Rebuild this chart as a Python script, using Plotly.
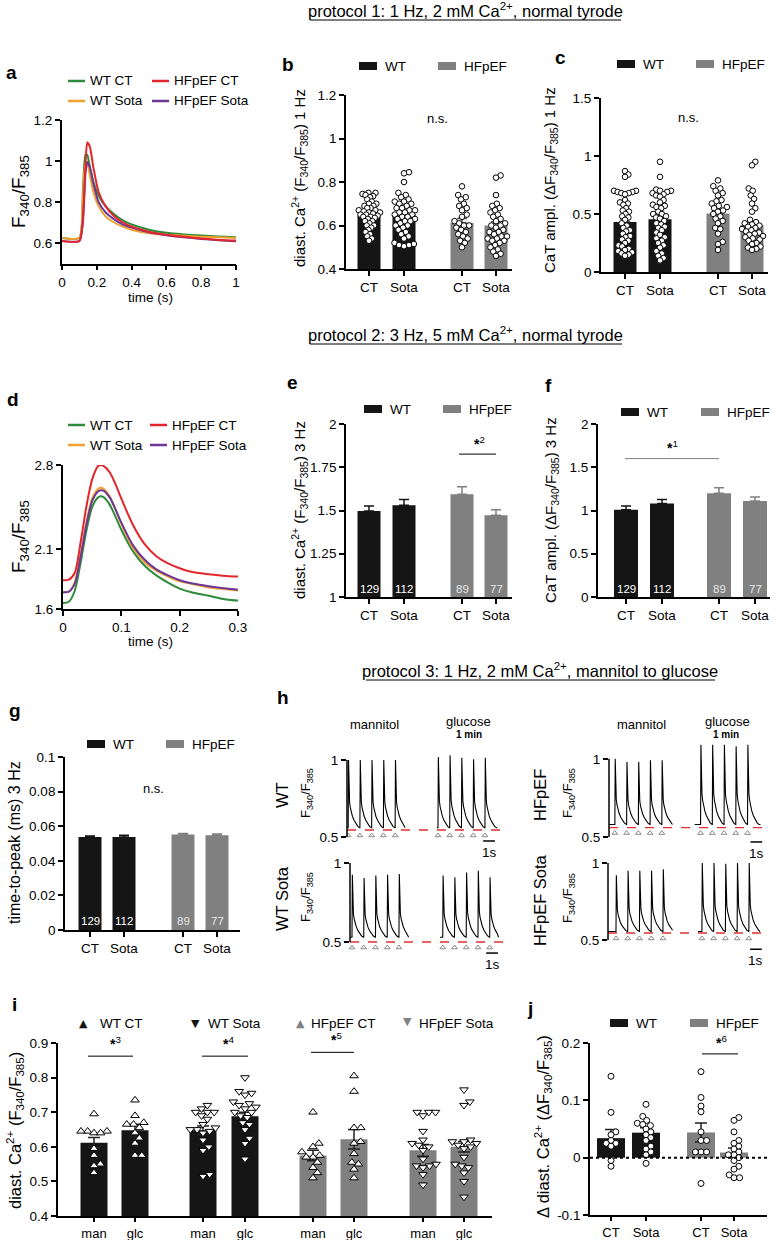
import math
import plotly.graph_objects as go

W, H = 783, 1240
FONT = "Liberation Sans, Arial, sans-serif"
BLK = "#151515"
GRY = "#808080"
GREEN = "#2e8b3a"
RED = "#e3262b"
ORANGE = "#f2a030"
PURPLE = "#6c3795"
TICK = 13.5
XTICK = 13.5

# ====================== DATA ======================
GROUP_TICKS = ["CT", "Sota", "CT", "Sota"]
I_TICKS = ["man", "glc", "man", "glc", "man", "glc", "man", "glc"]
N_CELLS = ["129", "112", "89", "77"]

# (a) mean transients, protocol 1
A_TIME = [0, 0.10, 0.12, 0.135, 0.145, 0.16, 0.18, 0.21, 0.25, 0.30, 0.35, 0.40, 0.50, 0.60, 0.70, 0.80, 0.90, 1.0]
A_WT_CT = [0.625, 0.625, 0.85, 1.03, 1.03, 0.97, 0.90, 0.83, 0.78, 0.74, 0.71, 0.69, 0.665, 0.65, 0.642, 0.636, 0.632, 0.628]
A_WT_SOTA = [0.625, 0.625, 0.82, 0.99, 0.99, 0.93, 0.85, 0.78, 0.73, 0.70, 0.68, 0.665, 0.648, 0.64, 0.635, 0.63, 0.628, 0.625]
A_HF_CT = [0.61, 0.61, 0.72, 0.98, 1.09, 1.07, 0.97, 0.85, 0.78, 0.73, 0.70, 0.68, 0.655, 0.64, 0.63, 0.622, 0.615, 0.612]
A_HF_SOTA = [0.61, 0.61, 0.70, 0.94, 0.995, 0.97, 0.89, 0.80, 0.75, 0.715, 0.69, 0.675, 0.652, 0.638, 0.628, 0.62, 0.614, 0.608]

# (d) mean transients, protocol 2
D_TIME = [0, 0.01, 0.02, 0.03, 0.04, 0.05, 0.06, 0.065, 0.07, 0.08, 0.09, 0.10, 0.12, 0.14, 0.16, 0.18, 0.20, 0.22, 0.25, 0.28, 0.30]
D_WT_CT = [1.65, 1.66, 1.75, 1.98, 2.25, 2.45, 2.53, 2.54, 2.53, 2.47, 2.37, 2.26, 2.08, 1.96, 1.88, 1.82, 1.77, 1.74, 1.71, 1.68, 1.67]
D_WT_SOTA = [1.74, 1.745, 1.82, 2.05, 2.32, 2.52, 2.60, 2.61, 2.60, 2.54, 2.43, 2.31, 2.11, 1.99, 1.92, 1.87, 1.83, 1.81, 1.78, 1.765, 1.755]
D_HF_CT = [1.84, 1.845, 1.90, 2.15, 2.45, 2.68, 2.79, 2.80, 2.79, 2.74, 2.64, 2.52, 2.30, 2.14, 2.04, 1.98, 1.94, 1.91, 1.89, 1.875, 1.87]
D_HF_SOTA = [1.74, 1.745, 1.81, 2.03, 2.30, 2.50, 2.58, 2.59, 2.585, 2.53, 2.43, 2.32, 2.13, 2.01, 1.93, 1.88, 1.84, 1.815, 1.79, 1.77, 1.76]

# (b) diastolic Ca 1 Hz
B_MEAN = [0.645, 0.65, 0.612, 0.60]
B_SEM = [0.01, 0.012, 0.02, 0.017]
B_WT_CT = [0.75, 0.75, 0.745, 0.74, 0.735, 0.73, 0.72, 0.71, 0.70, 0.70, 0.69, 0.69, 0.68, 0.68, 0.67, 0.67, 0.665,
           0.66, 0.66, 0.655, 0.65, 0.65, 0.645, 0.64, 0.64, 0.635, 0.63, 0.62, 0.62, 0.61, 0.60, 0.60, 0.59, 0.58,
           0.57, 0.56, 0.55, 0.54, 0.53]
B_WT_SOTA = [0.845, 0.84, 0.80, 0.75, 0.74, 0.73, 0.72, 0.71, 0.71, 0.70, 0.70, 0.69, 0.68, 0.68, 0.67, 0.67, 0.66,
             0.66, 0.65, 0.65, 0.64, 0.64, 0.63, 0.63, 0.62, 0.62, 0.61, 0.60, 0.60, 0.59, 0.58, 0.57, 0.56, 0.55,
             0.54, 0.52, 0.515, 0.51, 0.51, 0.505]
B_HF_CT = [0.78, 0.74, 0.73, 0.72, 0.70, 0.69, 0.68, 0.67, 0.65, 0.64, 0.62, 0.61, 0.60, 0.60, 0.59, 0.58, 0.57,
           0.56, 0.55, 0.54, 0.53, 0.52, 0.50]
B_HF_SOTA = [0.83, 0.82, 0.74, 0.70, 0.69, 0.68, 0.67, 0.66, 0.65, 0.64, 0.63, 0.62, 0.61, 0.60, 0.60, 0.59, 0.58,
             0.57, 0.57, 0.56, 0.55, 0.55, 0.54, 0.54, 0.53, 0.53, 0.52, 0.51, 0.50, 0.49, 0.48, 0.47, 0.46]

# (c) CaT amplitude 1 Hz
C_MEAN = [0.43, 0.455, 0.505, 0.405]
C_SEM = [0.03, 0.028, 0.028, 0.027]
C_WT_CT = [0.87, 0.84, 0.82, 0.70, 0.70, 0.69, 0.69, 0.68, 0.68, 0.67, 0.62, 0.60, 0.59, 0.58, 0.55, 0.53, 0.52,
           0.50, 0.48, 0.47, 0.45, 0.42, 0.40, 0.38, 0.36, 0.35, 0.33, 0.31, 0.30, 0.28, 0.27, 0.25, 0.23, 0.22,
           0.20, 0.19, 0.18, 0.17, 0.16, 0.15, 0.14]
C_WT_SOTA = [0.95, 0.82, 0.71, 0.70, 0.70, 0.69, 0.68, 0.67, 0.66, 0.65, 0.62, 0.60, 0.58, 0.57, 0.56, 0.55, 0.52,
             0.50, 0.50, 0.48, 0.47, 0.46, 0.44, 0.42, 0.41, 0.39, 0.38, 0.36, 0.34, 0.32, 0.30, 0.29, 0.27, 0.25,
             0.23, 0.21, 0.18, 0.16, 0.14, 0.12, 0.10]
C_HF_CT = [0.79, 0.74, 0.72, 0.70, 0.68, 0.66, 0.62, 0.61, 0.59, 0.57, 0.56, 0.55, 0.53, 0.52, 0.50, 0.48, 0.46,
           0.44, 0.42, 0.38, 0.37, 0.33, 0.26, 0.24, 0.19]
C_HF_SOTA = [0.95, 0.92, 0.72, 0.70, 0.66, 0.63, 0.59, 0.55, 0.52, 0.45, 0.43, 0.42, 0.41, 0.40, 0.39, 0.38, 0.37,
             0.36, 0.35, 0.34, 0.33, 0.32, 0.31, 0.30, 0.29, 0.28, 0.27, 0.25, 0.24, 0.22, 0.21, 0.20, 0.19]

# (e) diastolic Ca 3 Hz, (f) CaT ampl 3 Hz, (g) time to peak
E_MEAN = [1.497, 1.53, 1.594, 1.472]
E_SEM = [0.029, 0.033, 0.043, 0.033]
F_MEAN = [1.01, 1.08, 1.20, 1.11]
F_SEM = [0.042, 0.046, 0.062, 0.045]
G_MEAN = [0.0538, 0.0538, 0.0552, 0.0548]
G_SEM = [0.0006, 0.0009, 0.0006, 0.0007]

# (h) representative traces: WT, WT Sota, HFpEF, HFpEF Sota
H_MAN_PEAKS = [[1.0, 1.0, 1.0, 1.0, 1.0], [0.925, 0.905, 0.92, 0.925, 0.93],
               [1.0, 0.98, 0.98, 0.99, 0.99], [0.92, 0.95, 0.95, 0.95, 0.96]]
H_GLC_PEAKS = [[1.02, 1.03, 1.015, 1.005, 1.015], [0.92, 0.91, 0.94, 0.95, 0.91],
               [1.09, 1.09, 1.09, 1.08, 1.09], [1.0, 1.0, 0.995, 1.0, 1.0]]
H_BASE = [0.56, 0.53, 0.58, 0.555]
H_DASH = [0.545, 0.50, 0.56, 0.545]
# normalised single-transient shape (time after stimulus s, fraction of amplitude)
TPL_T = [0, 0.03, 0.07, 0.12, 0.18, 0.26, 0.36, 0.5, 0.65, 0.82, 0.98]
TPL_F = [0, 1.0, 0.52, 0.38, 0.3, 0.23, 0.17, 0.11, 0.06, 0.02, 0.0]

# (i) diastolic Ca mannitol -> glucose
I_MEAN = [0.612, 0.648, 0.648, 0.688, 0.575, 0.622, 0.59, 0.60]
I_SEM = [0.015, 0.017, 0.012, 0.012, 0.015, 0.028, 0.017, 0.015]
I_PTS = [
    [0.695, 0.645, 0.645, 0.645, 0.64, 0.64, 0.595, 0.575, 0.55, 0.545, 0.525],
    [0.735, 0.69, 0.67, 0.665, 0.665, 0.655, 0.64, 0.625, 0.61, 0.575, 0.575],
    [0.72, 0.71, 0.70, 0.70, 0.70, 0.69, 0.68, 0.665, 0.655, 0.65, 0.65, 0.645, 0.64, 0.62, 0.60, 0.59, 0.52, 0.515],
    [0.80, 0.76, 0.755, 0.75, 0.73, 0.725, 0.72, 0.715, 0.71, 0.70, 0.70, 0.69, 0.685, 0.67, 0.665, 0.65, 0.625, 0.61, 0.565],
    [0.70, 0.61, 0.60, 0.585, 0.575, 0.57, 0.57, 0.555, 0.54, 0.525, 0.51],
    [0.805, 0.76, 0.655, 0.655, 0.615, 0.61, 0.58, 0.555, 0.55, 0.535, 0.51],
    [0.70, 0.70, 0.70, 0.69, 0.645, 0.62, 0.61, 0.605, 0.60, 0.59, 0.565, 0.55, 0.545, 0.545, 0.54, 0.52, 0.49],
    [0.765, 0.73, 0.72, 0.62, 0.615, 0.615, 0.61, 0.605, 0.60, 0.595, 0.57, 0.55, 0.545, 0.54, 0.525, 0.50, 0.455],
]

# (j) delta diastolic Ca
J_MEAN = [0.034, 0.0436, 0.044, 0.009]
J_SEM = [0.015, 0.0085, 0.0165, 0.008]
J_PTS = [
    [0.142, 0.079, 0.045, 0.04, 0.03, 0.025, 0.025, 0.02, -0.005, -0.015],
    [0.093, 0.072, 0.065, 0.06, 0.058, 0.056, 0.05, 0.045, 0.04, 0.035, 0.03, 0.02, 0.015, 0.01, 0.005, -0.01],
    [0.15, 0.105, 0.09, 0.08, 0.045, 0.03, 0.03, 0.01, 0.01, 0.01, -0.045],
    [0.07, 0.065, 0.045, 0.03, 0.025, 0.02, 0.015, 0.01, 0.005, 0.005, 0.0, -0.005, -0.015, -0.02, -0.03, -0.035, -0.035],
]

# ====================== HELPERS ======================
fig = go.Figure()
LAY = {}
AX = {}
SHAPES = []
ANNS = []


def ref(n, a):
    return a if n == 1 else f"{a}{n}"


def axes(n, L, R, T, B, xr, yr, xo=None, yo=None):
    base = dict(showline=True, linecolor="black", linewidth=1.8, ticks="outside", ticklen=5, tickwidth=1.5,
                tickcolor="black", showgrid=False, zeroline=False, automargin=False,
                tickfont=dict(family=FONT, size=TICK, color="black"))
    xa = dict(base, domain=[L / W, R / W], range=xr, anchor=ref(n, "y"))
    ya = dict(base, domain=[1 - B / H, 1 - T / H], range=yr, anchor=ref(n, "x"))
    if xo:
        xa.update(xo)
    if yo:
        ya.update(yo)
    k = "" if n == 1 else str(n)
    LAY["xaxis" + k] = xa
    LAY["yaxis" + k] = ya
    AX[n] = (L, R, T, B, xr, yr)


def X(n, v):
    L, R, T, B, xr, yr = AX[n]
    return (L + (v - xr[0]) / (xr[1] - xr[0]) * (R - L)) / W


def Y(n, v):
    L, R, T, B, xr, yr = AX[n]
    return 1 - (B - (v - yr[0]) / (yr[1] - yr[0]) * (B - T)) / H


def ann(x, y, text, size=12, color="black", **kw):
    d = dict(x=x / W, y=1 - y / H, xref="paper", yref="paper", text=text, showarrow=False,
             xanchor="center", yanchor="middle",
             font=dict(family=FONT, size=size, color=color))
    d.update(kw)
    ANNS.append(d)


def hline_px(x0, x1, y, color="black", width=1.3, dash=None):
    ln = dict(color=color, width=width)
    if dash:
        ln["dash"] = dash
    SHAPES.append(dict(type="line", xref="paper", yref="paper", x0=x0 / W, x1=x1 / W,
                       y0=1 - y / H, y1=1 - y / H, line=ln))


def letter(x, y, t):
    ann(x, y, f"<b>{t}</b>", size=19)


def ytitle(x, y, text, size=15):
    ann(x, y, text, size=size, textangle=-90)


def legend_box(x, y, label, color):
    SHAPES.append(dict(type="rect", xref="paper", yref="paper", x0=x / W, x1=(x + 18) / W,
                       y0=1 - (y + 4) / H, y1=1 - (y - 4) / H, fillcolor=color, line=dict(width=0)))
    ann(x + 24, y, label, size=13.5, xanchor="left")


def legend_line(x, y, label, color):
    hline_px(x, x + 17, y, color=color, width=2.5)
    ann(x + 20, y, label, size=13.5, xanchor="left")


def swarm(vals, ppu, d=5.2, maxhalf=10.5):
    order = sorted(range(len(vals)), key=lambda i: vals[i])
    placed = []
    offs = [0.0] * len(vals)
    for i in order:
        y = vals[i] * ppu
        cands = [0.0]
        for (px, py) in placed:
            dyy = abs(py - y)
            if dyy < d:
                dxx = math.sqrt(d * d - dyy * dyy)
                cands += [px + dxx, px - dxx]
        cands.sort(key=abs)
        chosen = cands[-1]
        for c in cands:
            if all((c - px) ** 2 + (y - py) ** 2 >= d * d - 1e-6 for px, py in placed):
                chosen = c
                break
        offs[i] = chosen
        placed.append((chosen, y))
    m = max(abs(o) for o in offs) or 1
    if m > maxhalf:
        offs = [o * maxhalf / m for o in offs]
    return offs


def bar_panel(n, pos, means, sems, colors, width, ecolors, sym=False, cap=5):
    groups = {}
    for i, c in enumerate(colors):
        groups.setdefault((c, ecolors[i]), []).append(i)
    for (c, ec), idx in groups.items():
        fig.add_trace(go.Bar(
            x=[pos[i] for i in idx], y=[means[i] for i in idx], width=width, marker_color=c,
            marker_line_width=0,
            error_y=dict(type="data", array=[sems[i] for i in idx],
                         arrayminus=[sems[i] if sym else 0 for i in idx], symmetric=False,
                         color=ec, thickness=1.5, width=cap),
            xaxis=ref(n, "x"), yaxis=ref(n, "y"), hoverinfo="skip"))


def points(n, pos, groups_vals, ppu, symbol="circle", size=5.6, d=5.2, maxhalf=11):
    for p, vals in zip(pos, groups_vals):
        offs = swarm(vals, ppu, d, maxhalf)
        fig.add_trace(go.Scatter(
            x=[p + o for o in offs], y=vals, mode="markers",
            marker=dict(symbol=symbol, size=size, color="white", line=dict(color="black", width=1)),
            xaxis=ref(n, "x"), yaxis=ref(n, "y"), hoverinfo="skip", cliponaxis=False))


def xt(vals, text, size=XTICK, **kw):
    d = dict(tickvals=vals, ticktext=text, tickfont=dict(family=FONT, size=size, color="black"))
    d.update(kw)
    return d


# ====================== TITLES ======================
ann(466, 10, "protocol 1: 1 Hz, 2 mM Ca<sup>2+</sup>, normal tyrode", size=16.5)
hline_px(310, 621, 20, width=1)
ann(466, 334, "protocol 2: 3 Hz, 5 mM Ca<sup>2+</sup>, normal tyrode", size=16.5)
hline_px(310, 622, 344, width=1)
ann(540, 670, "protocol 3: 1 Hz, 2 mM Ca<sup>2+</sup>, mannitol to glucose", size=16.5)
hline_px(366, 715, 680, width=1)

# ====================== (a) ======================
axes(1, 62, 236, 120, 263.5, [0, 1], [0.5, 1.2],
     xo=xt([0, 0.2, 0.4, 0.6, 0.8, 1], ["0", "0.2", "0.4", "0.6", "0.8", "1"]),
     yo=dict(tickvals=[0.6, 0.8, 1.0, 1.2], ticktext=["0.6", "0.8", "1", "1.2"]))
for ys, col in [(A_WT_CT, GREEN), (A_WT_SOTA, ORANGE), (A_HF_SOTA, PURPLE), (A_HF_CT, RED)]:
    fig.add_trace(go.Scatter(x=A_TIME, y=ys, mode="lines", line=dict(color=col, width=2, shape="spline", smoothing=0.6),
                             xaxis="x", yaxis="y", hoverinfo="skip"))
letter(11, 72, "a")
legend_line(68, 81, "WT CT", GREEN)
legend_line(152, 81, "HFpEF CT", RED)
legend_line(68, 101, "WT Sota", ORANGE)
legend_line(152, 101, "HFpEF Sota", PURPLE)
ytitle(20, 192, "F<sub>340</sub>/F<sub>385</sub>", size=19)
ann(150, 297, "time (s)", size=13.5)

# ====================== (b) ======================
BPOS = [369, 404, 462, 496]
axes(2, 346, 512, 95, 269, [346, 512], [0.4, 1.2],
     xo=xt(BPOS, GROUP_TICKS),
     yo=dict(tickvals=[0.4, 0.6, 0.8, 1.0, 1.2], ticktext=["0.4", "0.6", "0.8", "1", "1.2"]))
bar_panel(2, BPOS, B_MEAN, B_SEM, [BLK, BLK, GRY, GRY], 23, [BLK, BLK, "#555", "#555"])
points(2, BPOS, [B_WT_CT, B_WT_SOTA, B_HF_CT, B_HF_SOTA], 217.5)
letter(288, 65, "b")
legend_box(359, 66, "WT", BLK)
legend_box(438, 66, "HFpEF", GRY)
ann(438, 118, "n.s.", size=13)
ytitle(299, 178, "diast. Ca<sup>2+</sup> (F<sub>340</sub>/F<sub>385</sub>) 1 Hz")

# ====================== (c) ======================
CPOS = [625, 660, 718, 752]
axes(3, 601, 768, 98, 272, [601, 768], [0, 1.5],
     xo=xt(CPOS, GROUP_TICKS),
     yo=dict(tickvals=[0, 0.5, 1.0, 1.5], ticktext=["0", "0.5", "1", "1.5"]))
bar_panel(3, CPOS, C_MEAN, C_SEM, [BLK, BLK, GRY, GRY], 23, [BLK, BLK, "#555", "#555"])
points(3, CPOS, [C_WT_CT, C_WT_SOTA, C_HF_CT, C_HF_SOTA], 116)
letter(560, 57, "c")
legend_box(617, 64, "WT", BLK)
legend_box(696, 64, "HFpEF", GRY)
ann(688, 117, "n.s.", size=13)
ytitle(551, 180, "CaT ampl. (ΔF<sub>340</sub>/F<sub>385</sub>) 1 Hz")

# ====================== (d) ======================
axes(4, 63, 238, 465, 609, [0, 0.3], [1.6, 2.8],
     xo=xt([0, 0.1, 0.2, 0.3], ["0", "0.1", "0.2", "0.3"]),
     yo=dict(tickvals=[1.6, 2.1, 2.8], ticktext=["1.6", "2.1", "2.8"]))
for ys, col in [(D_WT_CT, GREEN), (D_WT_SOTA, ORANGE), (D_HF_SOTA, PURPLE), (D_HF_CT, RED)]:
    fig.add_trace(go.Scatter(x=D_TIME, y=ys, mode="lines", line=dict(color=col, width=2, shape="spline", smoothing=0.8),
                             xaxis="x4", yaxis="y4", hoverinfo="skip"))
letter(13, 399, "d")
legend_line(68, 425, "WT CT", GREEN)
legend_line(150, 425, "HFpEF CT", RED)
legend_line(68, 445, "WT Sota", ORANGE)
legend_line(150, 445, "HFpEF Sota", PURPLE)
ytitle(20, 537, "F<sub>340</sub>/F<sub>385</sub>", size=19)
ann(150, 641, "time (s)", size=13.5)

# ====================== (e) ======================
axes(5, 346, 512, 424, 597, [346, 512], [1, 2],
     xo=xt(BPOS, GROUP_TICKS),
     yo=dict(tickvals=[1, 1.25, 1.5, 1.75, 2], ticktext=["1", "1.25", "1.5", "1.75", "2"]))
bar_panel(5, BPOS, E_MEAN, E_SEM, [BLK, BLK, GRY, GRY], 23, [BLK, BLK, GRY, GRY])
for p, t, i in zip(BPOS, N_CELLS, range(4)):
    ann(p, 589, t, size=11.5, color="white" if i < 2 else "#e6e6e6")
letter(292, 383, "e")
legend_box(364, 409, "WT", BLK)
legend_box(443, 409, "HFpEF", GRY)
SHAPES.append(dict(type="line", xref="paper", yref="paper", x0=X(5, 459), x1=X(5, 496),
                   y0=Y(5, 1.826), y1=Y(5, 1.826), line=dict(color="black", width=1)))
ann(479, 443, "<b>*</b><sup>2</sup>", size=14)
ytitle(299, 510, "diast. Ca<sup>2+</sup> (F<sub>340</sub>/F<sub>385</sub>) 3 Hz")

# ====================== (f) ======================
FPOS = [626, 662, 719, 755]
axes(6, 598, 770, 424, 597, [598, 770], [0, 2],
     xo=xt(FPOS, GROUP_TICKS),
     yo=dict(tickvals=[0, 0.5, 1, 1.5, 2], ticktext=["0", "0.5", "1", "1.5", "2"]))
bar_panel(6, FPOS, F_MEAN, F_SEM, [BLK, BLK, GRY, GRY], 24, [BLK, BLK, GRY, GRY])
for p, t, i in zip(FPOS, N_CELLS, range(4)):
    ann(p, 589, t, size=11.5, color="white" if i < 2 else "#e6e6e6")
letter(548, 385, "f")
legend_box(621, 412, "WT", BLK)
legend_box(701, 412, "HFpEF", GRY)
SHAPES.append(dict(type="line", xref="paper", yref="paper", x0=X(6, 625), x1=X(6, 719),
                   y0=Y(6, 1.6), y1=Y(6, 1.6), line=dict(color=GRY, width=1)))
ann(672, 447, "<b>*</b><sup>1</sup>", size=14)
ytitle(551, 510, "CaT ampl. (ΔF<sub>340</sub>/F<sub>385</sub>) 3 Hz")

# ====================== (g) ======================
GPOS = [90, 124, 183, 217]
axes(7, 65, 240, 757, 930, [65, 240], [0, 0.1],
     xo=xt(GPOS, GROUP_TICKS),
     yo=dict(tickvals=[0, 0.02, 0.04, 0.06, 0.08, 0.1], ticktext=["0", "0.02", "0.04", "0.06", "0.08", "0.1"]))
bar_panel(7, GPOS, G_MEAN, G_SEM, [BLK, BLK, GRY, GRY], 23, [BLK, BLK, GRY, GRY])
for p, t, i in zip(GPOS, N_CELLS, range(4)):
    ann(p, 921, t, size=11.5, color="white" if i < 2 else "#e6e6e6")
letter(15, 710, "g")
legend_box(87, 744, "WT", BLK)
legend_box(166, 744, "HFpEF", GRY)
ann(153, 788, "n.s.", size=13)
ytitle(14, 843, "time-to-peak (ms) 3 Hz", size=16)

# ====================== (h) ======================
H_PANELS = [
    dict(n=8, L=347, T=741.5, B=852.4, man0=0.1, glc0=7.75, man_end=4.95, glc_start=7.65, glc_end=12.8,
         sb=11.6, sby=0.474, lab="WT", lx=282, fx=306, cy=795),
    dict(n=9, L=350, T=844, B=957.8, man0=0.17, glc0=7.9, man_end=5.0, glc_start=7.67, glc_end=12.65,
         sb=11.6, sby=0.43, lab="WT Sota", lx=282, fx=306, cy=899),
    dict(n=10, L=609, T=740, B=852.6, man0=0.5, glc0=7.8, man_end=5.4, glc_start=7.3, glc_end=12.9,
         sb=12.05, sby=0.468, lab="HFpEF", lx=540, fx=568, cy=795),
    dict(n=11, L=608, T=844.5, B=955.4, man0=0.68, glc0=8.0, man_end=5.5, glc_start=7.66, glc_end=12.95,
         sb=12.1, sby=0.44, lab="HFpEF Sota", lx=540, fx=568, cy=900),
]


def segment(start, end, beat0, peaks, base):
    ts, vs = [start], [base]
    for k, pk in enumerate(peaks):
        b = beat0 + k
        for tt, ff in zip(TPL_T, TPL_F):
            t = b + tt
            if start <= t <= end:
                ts.append(t)
                vs.append(base + (pk - base) * ff)
    if ts[-1] < end:
        ts.append(end)
        vs.append(base)
    return ts, vs


for k, hp in enumerate(H_PANELS):
    n = hp["n"]
    L = hp["L"]
    R = L + 13.2 * 11.74
    axes(n, L, R, hp["T"], hp["B"], [0, 13.2], [0.4, 1.12],
         xo=dict(visible=False),
         yo=dict(showline=False, tickvals=[0.5, 1], ticktext=["0.5", "1"],
                 tickfont=dict(family=FONT, size=TICK, color="black")))
    base = H_BASE[k]
    for (s, e, b0, pk) in [(0, hp["man_end"], hp["man0"], H_MAN_PEAKS[k]),
                           (hp["glc_start"], hp["glc_end"], hp["glc0"], H_GLC_PEAKS[k])]:
        ts, vs = segment(s, e, b0, pk, base)
        fig.add_trace(go.Scatter(x=ts, y=vs, mode="lines", line=dict(color="black", width=1.1),
                                 xaxis=ref(n, "x"), yaxis=ref(n, "y"), hoverinfo="skip", cliponaxis=False))
    beats = [hp["man0"] + i for i in range(5)] + [hp["glc0"] + i for i in range(5)]
    fig.add_trace(go.Scatter(x=beats, y=[H_DASH[k] - 0.035] * 10, mode="markers",
                             marker=dict(symbol="triangle-up-open", size=5, color="#8a8a8a", line=dict(width=1)),
                             xaxis=ref(n, "x"), yaxis=ref(n, "y"), hoverinfo="skip", cliponaxis=False))
    SHAPES.append(dict(type="line", xref="paper", yref="paper", x0=X(n, 0), x1=X(n, 13.1),
                       y0=Y(n, H_DASH[k]), y1=Y(n, H_DASH[k]), line=dict(color="#e03030", width=1.4, dash="dash")))
    SHAPES.append(dict(type="line", xref="paper", yref="paper", x0=X(n, 0), x1=X(n, 0),
                       y0=Y(n, 0.5), y1=Y(n, 1.0), line=dict(color="black", width=1.5)))
    SHAPES.append(dict(type="line", xref="paper", yref="paper", x0=X(n, hp["sb"]), x1=X(n, hp["sb"] + 1),
                       y0=Y(n, hp["sby"]), y1=Y(n, hp["sby"]), line=dict(color="black", width=1.5)))
    ANNS.append(dict(x=X(n, hp["sb"] + 0.5), y=Y(n, hp["sby"]) - 2 / H, xref="paper", yref="paper",
                     text="1s", showarrow=False, xanchor="center", yanchor="top",
                     font=dict(family=FONT, size=13.5, color="black")))
    ytitle(hp["lx"], hp["cy"], hp["lab"], size=16.5)
    ytitle(hp["fx"], hp["cy"] - 2, "F<sub>340</sub>/F<sub>385</sub>", size=13)

letter(283, 697, "h")
ann(374, 724, "mannitol", size=13)
ann(468, 721, "glucose", size=13)
ann(469, 734, "<b>1 min</b>", size=10)
ann(641, 724, "mannitol", size=13)
ann(727, 721, "glucose", size=13)
ann(726, 734, "<b>1 min</b>", size=10)

# ====================== (i) ======================
IPOS = [94, 135, 203, 245, 313, 354, 423, 464]
axes(12, 58, 492, 1043, 1216, [58, 492], [0.4, 0.9],
     xo=xt(IPOS, I_TICKS, size=13, ticklen=4),
     yo=dict(tickvals=[0.4, 0.5, 0.6, 0.7, 0.8, 0.9], ticktext=["0.4", "0.5", "0.6", "0.7", "0.8", "0.9"]))
bar_panel(12, IPOS, I_MEAN, I_SEM, [BLK] * 4 + [GRY] * 4, 27, ["#222"] * 8, sym=True, cap=6)
for j, (p, vals) in enumerate(zip(IPOS, I_PTS)):
    sym = "triangle-up" if (j // 2) % 2 == 0 else "triangle-down"
    points(12, [p], [vals], 346.7, symbol=sym, size=7.5, d=6.8, maxhalf=13)
letter(15, 1005, "i")
ann(83, 1023, "▲", font=dict(family="DejaVu Sans", size=11, color=BLK))
ann(98, 1023, "WT CT", size=13.5, xanchor="left")
ann(195, 1023, "▼", font=dict(family="DejaVu Sans", size=11, color=BLK))
ann(206, 1023, "WT Sota", size=13.5, xanchor="left")
ann(300, 1023, "▲", font=dict(family="DejaVu Sans", size=11, color=GRY))
ann(309, 1023, "HFpEF CT", size=13.5, xanchor="left")
ann(408, 1021, "▼", font=dict(family="DejaVu Sans", size=11, color=GRY))
ann(417, 1023, "HFpEF Sota", size=13.5, xanchor="left")
for x0, x1, v, lab, ax in [(88, 133, 0.862, "3", 115), (202, 248, 0.862, "4", 228), (311, 354, 0.873, "5", 336)]:
    SHAPES.append(dict(type="line", xref="paper", yref="paper", x0=X(12, x0), x1=X(12, x1),
                       y0=Y(12, v), y1=Y(12, v), line=dict(color="black", width=1)))
    ANNS.append(dict(x=X(12, ax), y=Y(12, v) + 2 / H, xref="paper", yref="paper",
                     xanchor="center", yanchor="bottom",
                     text=f"<b>*</b><sup>{lab}</sup>", showarrow=False, font=dict(family=FONT, size=14, color="black")))
ytitle(15, 1131, "diast. Ca<sup>2+</sup> (F<sub>340</sub>/F<sub>385</sub>)", size=16.5)

# ====================== (j) ======================
JPOS = [611, 646, 701, 734]
axes(13, 590, 767, 1043, 1215, [590, 767], [-0.1, 0.2],
     xo=xt(JPOS, GROUP_TICKS, size=13, ticklen=4),
     yo=dict(tickvals=[-0.1, 0, 0.1, 0.2], ticktext=["-0.1", "0", "0.1", "0.2"]))
bar_panel(13, JPOS, J_MEAN, J_SEM, [BLK, BLK, GRY, GRY], 28, ["#222"] * 4, sym=True, cap=6)
SHAPES.append(dict(type="line", xref="paper", yref="paper", x0=X(13, 590), x1=X(13, 767),
                   y0=Y(13, 0), y1=Y(13, 0), line=dict(color="black", width=2, dash="dot")))
points(13, JPOS, J_PTS, 573, size=6, d=5.6, maxhalf=12)
letter(530, 1008, "j")
legend_box(610, 1023, "WT", BLK)
legend_box(690, 1023, "HFpEF", GRY)
SHAPES.append(dict(type="line", xref="paper", yref="paper", x0=X(13, 702), x1=X(13, 738),
                   y0=Y(13, 0.181), y1=Y(13, 0.181), line=dict(color="black", width=1)))
ann(721, 1042, "<b>*</b><sup>6</sup>", size=14)
ytitle(543, 1127, "Δ diast. Ca<sup>2+</sup> (ΔF<sub>340</sub>/F<sub>385</sub>)", size=16.5)

# ====================== LAYOUT ======================
fig.update_layout(
    template="none",
    width=W, height=H, margin=dict(l=0, r=0, t=0, b=0, pad=0), autosize=False,
    paper_bgcolor="white", plot_bgcolor="rgba(0,0,0,0)", showlegend=False, barmode="overlay",
    font=dict(family=FONT, color="black"),
    shapes=SHAPES, annotations=ANNS, **LAY)

fig.write_html("out.html", config={"displayModeBar": False},
               post_script="document.body.style.margin='0px';document.body.style.padding='0px';")
